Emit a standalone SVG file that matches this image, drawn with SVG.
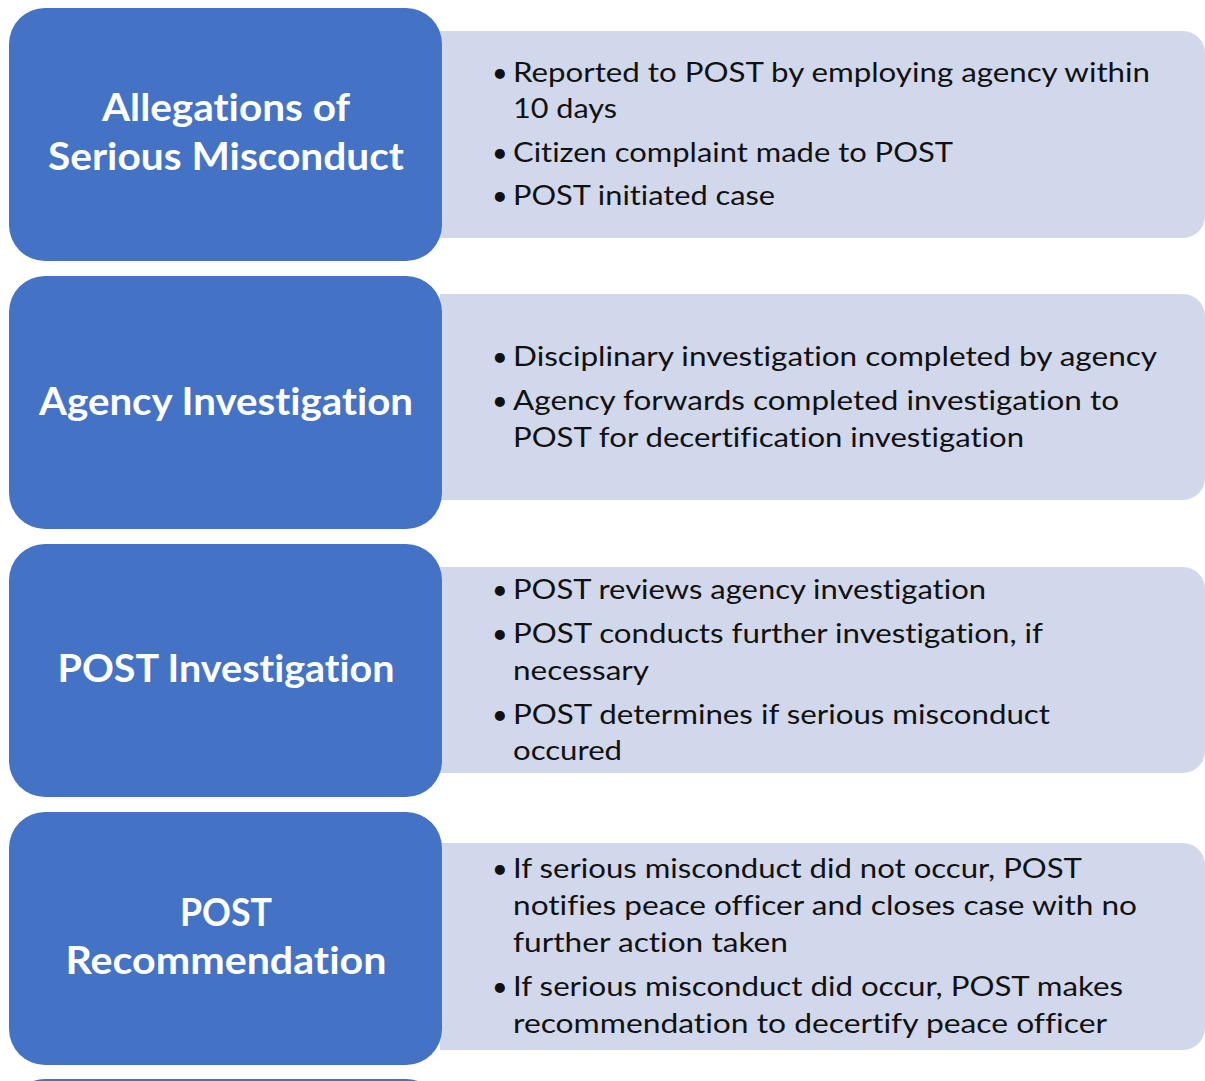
<svg xmlns="http://www.w3.org/2000/svg" width="1205" height="1081" viewBox="0 0 1205 1081">
<style>
.blue{fill:#4472C4}
.light{fill:#D2D8EB}
.title{font-family:Lato,"Open Sans","Liberation Sans",sans-serif;font-weight:bold;font-size:38px;fill:#FFFFFF;text-anchor:middle;font-variant-ligatures:none}
.body{font-family:Lato,"Open Sans","Liberation Sans",sans-serif;font-size:27px;fill:#111111;font-variant-ligatures:none}
</style>
<rect width="1205" height="1081" fill="#FFFFFF"/>
<g id="step1">
<path class="light" d="M440,31 H1183 A22,22 0 0 1 1205,53 V216 A22,22 0 0 1 1183,238 H440 Z"/>
<rect class="blue" x="9" y="8" width="433" height="253" rx="36"/>
<text class="title" x="226" y="121" textLength="248" lengthAdjust="spacingAndGlyphs">Allegations of</text>
<text class="title" x="226" y="170" textLength="356" lengthAdjust="spacingAndGlyphs">Serious Misconduct</text>
<text class="body" x="492" y="82">•</text>
<text class="body" x="513" y="82" textLength="637" lengthAdjust="spacingAndGlyphs">Reported to POST by employing agency within</text>
<text class="body" x="513" y="118" textLength="104" lengthAdjust="spacingAndGlyphs">10 days</text>
<text class="body" x="492" y="162">•</text>
<text class="body" x="513" y="162" textLength="440" lengthAdjust="spacingAndGlyphs">Citizen complaint made to POST</text>
<text class="body" x="492" y="205">•</text>
<text class="body" x="513" y="205" textLength="262" lengthAdjust="spacingAndGlyphs">POST initiated case</text>
</g>
<g id="step2">
<path class="light" d="M440,294 H1183 A22,22 0 0 1 1205,316 V478 A22,22 0 0 1 1183,500 H440 Z"/>
<rect class="blue" x="9" y="276" width="433" height="253" rx="36"/>
<text class="title" x="226" y="415" textLength="374" lengthAdjust="spacingAndGlyphs">Agency Investigation</text>
<text class="body" x="492" y="366">•</text>
<text class="body" x="513" y="366" textLength="644" lengthAdjust="spacingAndGlyphs">Disciplinary investigation completed by agency</text>
<text class="body" x="492" y="410">•</text>
<text class="body" x="513" y="410" textLength="606" lengthAdjust="spacingAndGlyphs">Agency forwards completed investigation to</text>
<text class="body" x="513" y="447" textLength="511" lengthAdjust="spacingAndGlyphs">POST for decertification investigation</text>
</g>
<g id="step3">
<path class="light" d="M440,567 H1183 A22,22 0 0 1 1205,589 V751 A22,22 0 0 1 1183,773 H440 Z"/>
<rect class="blue" x="9" y="544" width="433" height="253" rx="36"/>
<text class="title" x="226" y="682" textLength="337" lengthAdjust="spacingAndGlyphs">POST Investigation</text>
<text class="body" x="492" y="599">•</text>
<text class="body" x="513" y="599" textLength="473" lengthAdjust="spacingAndGlyphs">POST reviews agency investigation</text>
<text class="body" x="492" y="643">•</text>
<text class="body" x="513" y="643" textLength="530" lengthAdjust="spacingAndGlyphs">POST conducts further investigation, if</text>
<text class="body" x="513" y="680" textLength="136" lengthAdjust="spacingAndGlyphs">necessary</text>
<text class="body" x="492" y="724">•</text>
<text class="body" x="513" y="724" textLength="537" lengthAdjust="spacingAndGlyphs">POST determines if serious misconduct</text>
<text class="body" x="513" y="760" textLength="109" lengthAdjust="spacingAndGlyphs">occured</text>
</g>
<g id="step4">
<path class="light" d="M440,843 H1183 A22,22 0 0 1 1205,865 V1028 A22,22 0 0 1 1183,1050 H440 Z"/>
<rect class="blue" x="9" y="812" width="433" height="253" rx="36"/>
<text class="title" x="226" y="926" textLength="92" lengthAdjust="spacingAndGlyphs">POST</text>
<text class="title" x="226" y="974" textLength="321" lengthAdjust="spacingAndGlyphs">Recommendation</text>
<text class="body" x="492" y="878">•</text>
<text class="body" x="513" y="878" textLength="569" lengthAdjust="spacingAndGlyphs">If serious misconduct did not occur, POST</text>
<text class="body" x="513" y="915" textLength="624" lengthAdjust="spacingAndGlyphs">notifies peace officer and closes case with no</text>
<text class="body" x="513" y="952" textLength="275" lengthAdjust="spacingAndGlyphs">further action taken</text>
<text class="body" x="492" y="996">•</text>
<text class="body" x="513" y="996" textLength="610" lengthAdjust="spacingAndGlyphs">If serious misconduct did occur, POST makes</text>
<text class="body" x="513" y="1033" textLength="594" lengthAdjust="spacingAndGlyphs">recommendation to decertify peace officer</text>
</g>
<g id="step5">
<rect class="blue" x="9" y="1079" width="433" height="253" rx="36"/>
</g>
</svg>
